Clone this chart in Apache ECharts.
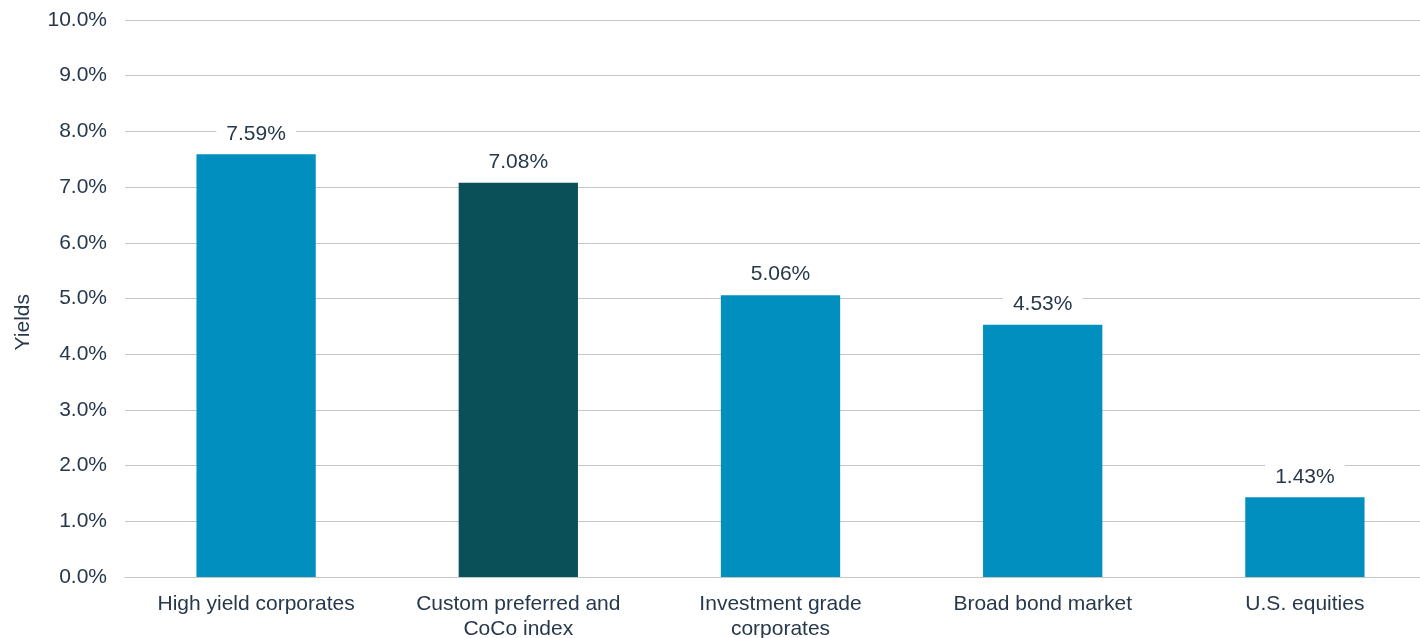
<!DOCTYPE html>
<html>
<head>
<meta charset="utf-8">
<script src="https://cdn.jsdelivr.net/npm/echarts@6/dist/echarts.min.js"></script>
<style>
  html, body { margin: 0; padding: 0; background: #fff; }
  #chart { width: 1420px; height: 638px; }
</style>
</head>
<body>
<div id="chart"></div>
<script>
const categories = ['High yield corporates', 'Custom preferred and\nCoCo index', 'Investment grade\ncorporates', 'Broad bond market', 'U.S. equities']
const yields = [7.59, 7.08, 5.06, 4.53, 1.43]
const barColors = ['#008fbe', '#0a5058', '#008fbe', '#008fbe', '#008fbe']

const textColor = '#27384a'
const fontFamily = 'Liberation Sans, Arial, sans-serif'
const chart = echarts.init(document.getElementById('chart'))

chart.setOption({
  animation: false,
  textStyle: { fontFamily },
  // plot runs a little past the right edge, like the original
  grid: { left: 125, right: -16, top: 20, bottom: 61, outerBoundsMode: 'none' },
  // axis title sits a bit below the middle of the plot
  graphic: [{
    type: 'text',
    left: 13,
    top: 294,
    rotation: Math.PI / 2,
    style: { text: 'Yields', fill: textColor, fontSize: 21, fontFamily }
  }],
  xAxis: {
    type: 'category',
    data: categories,
    axisLine: { lineStyle: { color: '#c6c6c6', width: 1 } },
    axisTick: { show: false },
    axisLabel: { color: textColor, fontSize: 21, lineHeight: 25, margin: 15, interval: 0 }
  },
  yAxis: {
    type: 'value',
    min: 0,
    max: 10,
    interval: 1,
    axisLine: { show: false },
    axisTick: { show: false },
    axisLabel: { color: textColor, fontSize: 21, margin: 18, formatter: v => v.toFixed(1) + '%' },
    splitLine: { lineStyle: { color: '#c6c6c6', width: 1 } }
  },
  series: [{
    type: 'bar',
    barWidth: '45.5%',
    data: yields.map((v, i) => ({ value: v, itemStyle: { color: barColors[i] } })),
    label: {
      show: true,
      position: 'top',
      distance: 8,
      color: textColor,
      fontSize: 21,
      backgroundColor: '#fff',
      padding: [2, 10],
      formatter: p => p.value.toFixed(2) + '%'
    }
  }]
})
</script>
</body>
</html>
